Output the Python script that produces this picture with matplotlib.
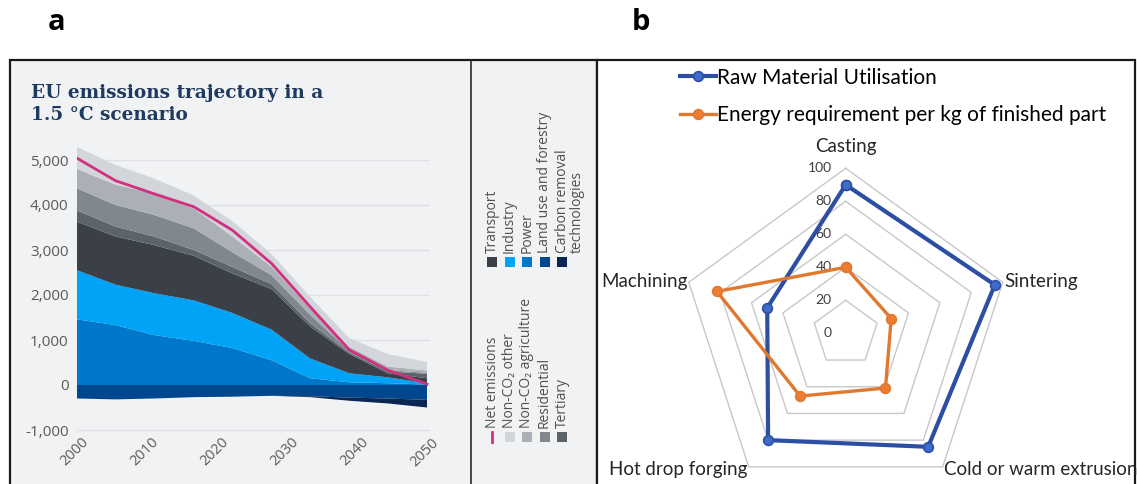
import numpy as np
import matplotlib.pyplot as plt
from matplotlib.patches import Rectangle
from matplotlib.transforms import ScaledTranslation

W, H = 1137, 484

# EU emissions trajectory (MtCO2e), stacked by sector
years = [2000, 2005.5, 2011, 2016.7, 2022.2, 2027.8, 2033.3, 2038.9, 2044.4, 2050]
power = [1460, 1330, 1110, 980, 820, 550, 150, 60, 40, 10]
industry = [1090, 900, 930, 900, 780, 680, 440, 200, 130, 30]
transport = [1080, 1070, 1070, 990, 880, 900, 710, 430, 90, 110]
tertiary = [250, 220, 190, 130, 140, 110, 70, 30, 40, 100]
residential = [490, 480, 480, 480, 330, 200, 190, 40, 30, 20]
non_co2_agriculture = [430, 450, 480, 440, 350, 190, 140, 90, 80, 50]
non_co2_other = [490, 440, 330, 290, 340, 280, 260, 190, 280, 190]
land_use = [-300, -320, -300, -270, -260, -240, -250, -280, -300, -330]
carbon_removal = [0, 0, 0, 0, 0, 0, -20, -70, -110, -170]
net_emissions = [5040, 4540, 4250, 3960, 3440, 2700, 1740, 780, 330, 20]

positive_colors = ['#0077c8', '#00a3f5', '#3b4048', '#5b636b', '#80878f', '#aab0b6', '#d2d6da']
negative_colors = ['#00478f', '#0b2650']
net_color = '#d2307f'

legend_left = [('Net emissions', net_color), ('Non-CO\u2082 other', '#d2d6da'),
               ('Non-CO\u2082 agriculture', '#aab0b6'), ('Residential', '#80878f'),
               ('Tertiary', '#5b636b')]
legend_right = [('Transport', '#3b4048'), ('Industry', '#00a3f5'), ('Power', '#0077c8'),
                ('Land use and forestry', '#00478f'),
                ('Carbon removal\ntechnologies', '#0b2650')]

# Radar chart: manufacturing processes
categories = ['Casting', 'Sintering', 'Cold or warm extrusion', 'Hot drop forging', 'Machining']
raw_material = [90, 95, 85, 80, 50]
energy_per_kg = [40, 29, 41, 47, 82]
radar_ticks = [0, 20, 40, 60, 80, 100]


def rect(x0, y0, x1, y1):
    return [x0 / W, 1 - y1 / H, (x1 - x0) / W, (y1 - y0) / H]


fig = plt.figure(figsize=(W / 100, H / 100), dpi=100)

# panel frames and letters
canvas = fig.add_axes([0, 0, 1, 1])
canvas.set_xlim(0, W)
canvas.set_ylim(H, 0)
canvas.axis('off')
canvas.add_patch(Rectangle((10, 60), 587, 440, facecolor='#f1f2f4',
                           edgecolor='#1a1a1a', lw=1.6))
canvas.plot([471, 471], [60, H], color='#2a2a2a', lw=1.2)
canvas.add_patch(Rectangle((597, 60), 538, 440, facecolor='white',
                           edgecolor='#1a1a1a', lw=1.6))
canvas.text(57, 22, 'a', fontsize=21, fontweight='bold', family='Open Sans',
            ha='center', va='center')
canvas.text(641, 22, 'b', fontsize=21, fontweight='bold', family='Open Sans',
            ha='center', va='center')

# title of the emissions panel
canvas.text(31, 104, 'EU emissions trajectory in a\n1.5 \u00b0C scenario', family='DejaVu Serif',
            fontsize=13.3, fontweight='bold', color='#1f3a5f', ha='left', va='center',
            linespacing=1.25)

# legend column, rotated labels
legend_font = dict(rotation=90, va='bottom', fontsize=10,
                   family=['Open Sans', 'DejaVu Sans'], color='#505050')
for i, (label, color) in enumerate(legend_left):
    x = 492 + 17.5 * i
    if i == 0:
        canvas.plot([x, x], [432, 442], color=color, lw=2)
    else:
        canvas.add_patch(Rectangle((x - 5, 432), 10, 10, facecolor=color, lw=0))
    canvas.text(x, 428, label, ha='center', **legend_font)
for i, (label, color) in enumerate(legend_right):
    x = 492 + 17.5 * i
    canvas.add_patch(Rectangle((x - 5, 257), 10, 10, facecolor=color, lw=0))
    if '\n' in label:
        canvas.text(x - 7, 253, label, ha='left', linespacing=0.95,
                    multialignment='left', **legend_font)
    else:
        canvas.text(x, 253, label, ha='center', **legend_font)

# stacked area chart
ax = fig.add_axes(rect(77, 142, 430, 432.25))
ax.set_xlim(2000, 2050.43)
ax.set_ylim(-1050, 5400)
ax.patch.set_alpha(0)
for s in ax.spines.values():
    s.set_visible(False)
ax.stackplot(years, power, industry, transport, tertiary, residential,
             non_co2_agriculture, non_co2_other, colors=positive_colors, lw=0)
ax.stackplot(years, land_use, carbon_removal, colors=negative_colors, lw=0)
ax.plot(years, net_emissions, color=net_color, lw=2)

yt = list(range(-1000, 5001, 1000))
ax.set_yticks(yt)
ax.set_yticklabels([f'{v:,}' for v in yt])
ax.yaxis.grid(True, color='#dfe0e3', lw=1)
ax.set_axisbelow(True)
ax.set_xticks(range(2000, 2051, 10))
ax.tick_params(length=0, labelsize=11, labelcolor='#5a5a5a')
ax.tick_params(axis='y', pad=6)
ax.tick_params(axis='x', pad=2)
for lab in ax.get_yticklabels() + ax.get_xticklabels():
    lab.set_family('Open Sans')
for lab in ax.get_xticklabels():
    lab.set_rotation(45)
    lab.set_ha('right')
    lab.set_va('top')
    lab.set_rotation_mode('anchor')
    lab.set_fontsize(10.5)
    lab.set_transform(lab.get_transform() + ScaledTranslation(0.04, 0, fig.dpi_scale_trans))

# radar chart
rax = fig.add_axes(rect(597, 60, 1137, 484))
rax.set_xlim(-150.7, 176.5)
rax.set_ylim(-91.3, 165.6)
rax.axis('off')

angles = np.pi / 2 - 2 * np.pi * np.arange(len(categories)) / len(categories)
closed = np.append(angles, angles[0])
for t in radar_ticks[1:]:
    rax.plot(t * np.cos(closed), t * np.sin(closed), color='#c8c8c8', lw=1, zorder=1)
for t in radar_ticks:
    rax.text(-8.5, t, str(t), ha='right', va='center', fontsize=10, family='Lato',
             color='#404040', zorder=2)

for name, ang in zip(categories, angles):
    c, s = np.cos(ang), np.sin(ang)
    if abs(c) <= 0.1:
        rax.text(0, 108, name, ha='center', va='bottom', fontsize=13.5, family='Lato',
                 color='#262626')
    else:
        rax.text(101 * c, 102 * s, name, ha='left' if c > 0 else 'right', va='center',
                 fontsize=13.5, family='Lato', color='#262626')


def radar_line(values, color, face, lw, label):
    v = np.append(values, values[0])
    rax.plot(v * np.cos(closed), v * np.sin(closed), color=color, lw=lw, marker='o',
             ms=7, mfc=face, mec=color, mew=1.2, label=label, zorder=3,
             solid_joinstyle='round')


radar_line(raw_material, '#2c4ea3', '#3f6cc8', 3, 'Raw Material Utilisation')
radar_line(energy_per_kg, '#e0782f', '#ed7d31', 2.4, 'Energy requirement per kg of finished part')

rax.legend(loc='upper left', bbox_to_anchor=(665 / W, 1 - 53 / H),
           bbox_transform=fig.transFigure, frameon=False, handlelength=1.75,
           handletextpad=0.05, labelspacing=0.85, borderpad=0.2,
           prop={'family': 'Lato', 'size': 15})

fig.savefig('out.png', dpi=100)
